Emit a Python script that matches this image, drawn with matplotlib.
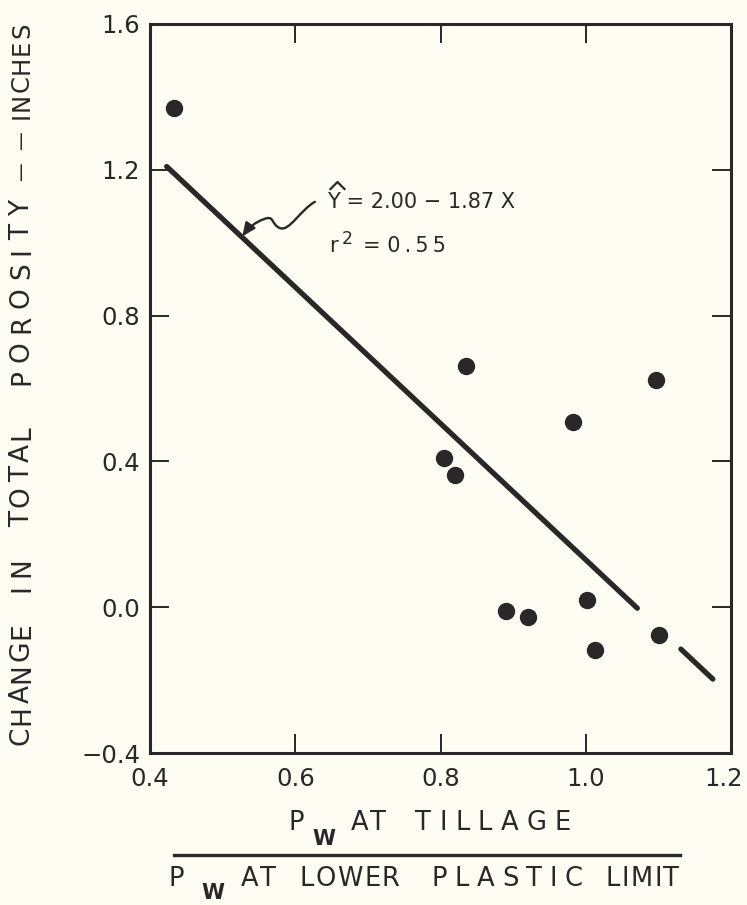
import numpy as np
import matplotlib
matplotlib.use("Agg")
import matplotlib.pyplot as plt
from matplotlib.path import Path
from matplotlib.patches import FancyArrowPatch
from matplotlib.transforms import ScaledTranslation

# ---------------- data ----------------
x_ratio = [0.433, 0.805, 0.820, 0.835, 0.983, 1.097, 0.890, 0.921, 1.002, 1.013, 1.101]
d_porosity = [1.37, 0.41, 0.364, 0.663, 0.507, 0.622, -0.011, -0.027, 0.019, -0.118, -0.077]

intercept = 2.00
slope = -1.87
r_squared = 0.55
reg_segments = [(0.423, 1.071), (1.131, 1.175)]

x_ticks = [0.4, 0.6, 0.8, 1.0, 1.2]
x_tick_labels = ["0.4", "0.6", "0.8", "1.0", "1.2"]
y_ticks = [-0.4, 0.0, 0.4, 0.8, 1.2, 1.6]
y_tick_labels = ["\u22120.4", "0.0", "0.4", "0.8", "1.2", "1.6"]

ink = "#2b2729"
bg = "#fdfdf4"

W, H = 747, 905
fig = plt.figure(figsize=(W / 100, H / 100), dpi=100, facecolor=bg)
ax = fig.add_axes([150 / W, 1 - 753 / H, (731 - 150) / W, (753 - 24) / H], facecolor=bg)
renderer = fig.canvas.get_renderer()

# points
ax.plot(x_ratio, d_porosity, "o", ms=11.5, color=ink, mec=ink, zorder=3)

# regression line
for x0, x1 in reg_segments:
    xs = np.array([x0, x1])
    ax.plot(xs, intercept + slope * xs, color=ink, lw=3.8, solid_capstyle="round", zorder=2)

ax.set_xlim(0.4, 1.2)
ax.set_ylim(-0.4, 1.6)
ax.set_xticks(x_ticks)
ax.set_xticklabels(x_tick_labels)
ax.set_yticks(y_ticks)
ax.set_yticklabels(y_tick_labels)
ax.tick_params(direction="in", length=14, width=1.4, color=ink, labelcolor=ink,
               labelsize=17.5, top=True, right=True, pad=7)
ax.tick_params(axis="x", pad=10)
for sp in ax.spines.values():
    sp.set_linewidth(2.2)
    sp.set_color(ink)
last = ax.get_xticklabels()[-1]
last.set_transform(last.get_transform() + ScaledTranslation(-7 / 100, 0, fig.dpi_scale_trans))


# ---------- helpers for spaced lettering (pixel coords from top-left) ----------
def glyph_sizes(word, size, rot, weight):
    out = []
    for ch in word:
        t = fig.text(0, 0, ch, fontsize=size, rotation=rot, fontweight=weight)
        bb = t.get_window_extent(renderer)
        out.append(bb.width if rot == 0 else bb.height)
        t.remove()
    return out


def word_h(x0, x1, yc, word, size=18.5, weight="normal", min_gap=1.5):
    w = glyph_sizes(word, size, 0, weight)
    n = len(word)
    gap = (x1 - x0 - sum(w)) / (n - 1) if n > 1 else 0
    gap = max(gap, min_gap)
    span = sum(w) + gap * (n - 1)
    pos = (x0 + x1) / 2 - span / 2
    for ch, wi in zip(word, w):
        fig.text((pos + wi / 2) / W, 1 - yc / H, ch, fontsize=size, fontweight=weight,
                 color=ink, ha="center", va="center")
        pos += wi + gap


def word_v(y_bot, y_top, xc, word, size=19, weight="normal", min_gap=1.5):
    w = glyph_sizes(word, size, 90, weight)
    n = len(word)
    gap = (y_bot - y_top - sum(w)) / (n - 1) if n > 1 else 0
    gap = max(gap, min_gap)
    span = sum(w) + gap * (n - 1)
    pos = (y_bot + y_top) / 2 + span / 2
    for ch, wi in zip(word, w):
        fig.text(xc / W, 1 - (pos - wi / 2) / H, ch, fontsize=size, fontweight=weight,
                 rotation=90, color=ink, ha="center", va="center")
        pos -= wi + gap


# ---------- y label ----------
ylab_x = 22
word_v(745, 622, ylab_x, "CHANGE")
word_v(592, 557, ylab_x, "IN")
word_v(527, 425, ylab_x, "TOTAL")
word_v(385, 200, ylab_x, "POROSITY")
word_v(181, 163, ylab_x, "\u2014", size=13.5)
word_v(150, 132, ylab_x, "\u2014", size=13.5)
word_v(116, 26, ylab_x, "INCHES", size=17.5, min_gap=1.0)

# ---------- x label (fraction) ----------
word_h(289, 303, 823, "P")
word_h(313, 334, 839, "W", size=15, weight="bold")
word_h(352, 385, 823, "AT")
word_h(415, 571, 823, "TILLAGE")
fig.add_artist(plt.Line2D([174 / W, 680 / W], [1 - 855 / H, 1 - 855 / H],
                          transform=fig.transFigure, color=ink, lw=2.4))
word_h(167, 186, 879, "P")
word_h(204, 222, 893, "W", size=15, weight="bold")
word_h(242, 275, 879, "AT")
word_h(301, 398, 879, "LOWER")
word_h(432, 582, 879, "PLASTIC")
word_h(608, 677, 879, "LIMIT")

# ---------- equation annotation ----------
eq_text = "Y = %.2f \u2212 %.2f X" % (intercept, -slope)
ax.text(0.644, 1.112, eq_text, fontsize=15, color=ink, ha="left", va="center")
# circumflex over the Y
fig.add_artist(plt.Line2D([330.5 / W, 337.5 / W, 344.5 / W],
                          [1 - 189 / H, 1 - 182 / H, 1 - 189 / H],
                          transform=fig.transFigure, color=ink, lw=1.6))
ax.text(0.647, 0.99, "r", fontsize=15, color=ink, ha="left", va="center")
ax.text(0.664, 1.010, "2", fontsize=12.5, color=ink, ha="left", va="center")
ax.text(0.693, 0.99, "= %s" % "\u2009".join("%.2f" % r_squared), fontsize=15,
        color=ink, ha="left", va="center")

arrow_path = Path(
    [(0.627, 1.112), (0.607, 1.09), (0.592, 1.03), (0.579, 1.04),
     (0.566, 1.05), (0.572, 1.078), (0.556, 1.064),
     (0.545, 1.056), (0.536, 1.042), (0.527, 1.017)],
    [Path.MOVETO, Path.CURVE4, Path.CURVE4, Path.CURVE4,
     Path.CURVE4, Path.CURVE4, Path.CURVE4,
     Path.CURVE4, Path.CURVE4, Path.CURVE4])
arr = FancyArrowPatch(path=arrow_path, arrowstyle="-|>,head_length=8,head_width=3.5",
                      color=ink, lw=1.7, transform=ax.transData, zorder=4)
ax.add_patch(arr)

fig.savefig("out.png", dpi=100, facecolor=bg)
